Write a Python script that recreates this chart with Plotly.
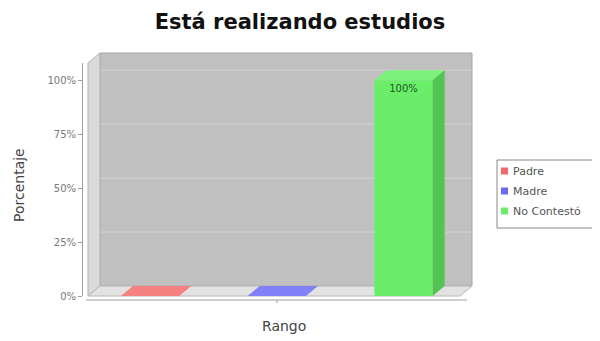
import plotly.graph_objects as go

# ---- data ----
series = ["Padre", "Madre", "No Contestó"]
values = [0, 0, 100]
colors_front = ["#f06a6a", "#6a6af5", "#6aee6a"]
colors_side = ["#c85050", "#5050c8", "#52c452"]
colors_top = ["#f58080", "#8080f8", "#7cf27c"]
ytick_vals = [0, 25, 50, 75, 100]
ytick_text = ["0%", "25%", "50%", "75%", "100%"]

# ---- geometry (pixels, in window coordinates) ----
OFF = 8                    # page body margin
W, H = 600, 341 - OFF
L, R_PX = 82, 460          # plot area (y axis at L, front face right edge at R_PX)
TOP, BOT = 63, 296
FRONT_LEFT = 88
DX, DY = 12, 10            # 3D depth in pixels
YMAX = 108
XR = [-0.49, 2.446]
BAR_W = 0.46

pw = R_PX - L
ph = BOT - TOP
def PX(px): return (px - L) / pw
def PY(py): return (BOT - py) / ph
ux = (R_PX - FRONT_LEFT) / (XR[1] - XR[0])   # px per x unit
uy = ph / YMAX                               # px per y unit
ddx = DX / ux
ddy = DY / uy

fig = go.Figure()
for s, v, c in zip(series, values, colors_front):
    fig.add_trace(go.Bar(
        x=[s], y=[v], name=s, width=BAR_W,
        marker=dict(color=c, line=dict(width=0)),
        text=[f"{v}%" if v > 0 else ""], textposition="inside",
        insidetextanchor="end", textangle=0,
        textfont=dict(family="DejaVu Sans", size=10, color="#1f5a1f"),
        cliponaxis=False, showlegend=False,
    ))

shapes = []
def poly(pts, fill, line="rgba(0,0,0,0)", lw=0, layer="below", ref="paper"):
    d = "M " + " L ".join(f"{x},{y}" for x, y in pts) + " Z"
    return dict(type="path", path=d, xref="paper" if ref == "paper" else "x",
                yref="paper" if ref == "paper" else "y",
                fillcolor=fill, line=dict(color=line, width=lw), layer=layer)

# back wall
shapes.append(poly([(PX(FRONT_LEFT + DX), PY(TOP - DY)), (PX(R_PX + DX), PY(TOP - DY)),
                    (PX(R_PX + DX), PY(BOT - DY)), (PX(FRONT_LEFT + DX), PY(BOT - DY))],
                   "#c0c0c0", "#a8a8a8", 1))
# left wall
shapes.append(poly([(PX(FRONT_LEFT), PY(BOT)), (PX(FRONT_LEFT), PY(TOP)),
                    (PX(FRONT_LEFT + DX), PY(TOP - DY)), (PX(FRONT_LEFT + DX), PY(BOT - DY))],
                   "#dadada", "#b0b0b0", 1))
# floor
shapes.append(poly([(PX(FRONT_LEFT), PY(BOT)), (PX(FRONT_LEFT + DX), PY(BOT - DY)),
                    (PX(R_PX + DX), PY(BOT - DY)), (PX(R_PX), PY(BOT))],
                   "#e2e2e2", "#b8b8b8", 1))
# gridlines on back wall
for v in ytick_vals[1:]:
    shapes.append(dict(type="line", xref="paper", yref="y",
                       x0=PX(FRONT_LEFT + DX), x1=PX(R_PX + DX), y0=v + ddy, y1=v + ddy,
                       line=dict(color="rgba(255,255,255,0.3)", width=1), layer="below"))
# 3D faces for bars
for i, (v, cs, ct) in enumerate(zip(values, colors_side, colors_top)):
    x0, x1 = i - BAR_W / 2, i + BAR_W / 2
    shapes.append(poly([(x0, v), (x1, v), (x1 + ddx, v + ddy), (x0 + ddx, v + ddy)],
                       ct, layer="above", ref="data"))
    if v > 0:
        shapes.append(poly([(x1, 0), (x1, v), (x1 + ddx, v + ddy), (x1 + ddx, ddy)],
                           cs, layer="above", ref="data"))
# category axis line
shapes.append(dict(type="line", xref="paper", yref="paper",
                   x0=PX(86), x1=PX(467), y0=PY(300), y1=PY(300),
                   line=dict(color="#a0a0a0", width=1)))
shapes.append(dict(type="line", xref="paper", yref="paper",
                   x0=PX(277), x1=PX(277), y0=PY(300), y1=PY(303),
                   line=dict(color="#a0a0a0", width=1)))

# legend (drawn manually to match the compact original; open on the right like the original)
LEG_X0, LEG_Y0, LEG_Y1 = 497, 160, 228
shapes.append(dict(type="path", xref="paper", yref="paper",
                   path=(f"M {PX(640)},{PY(LEG_Y0)} L {PX(LEG_X0)},{PY(LEG_Y0)} "
                         f"L {PX(LEG_X0)},{PY(LEG_Y1)} L {PX(640)},{PY(LEG_Y1)}"),
                   fillcolor="rgba(0,0,0,0)", line=dict(color="#888", width=1)))
annotations = []
for k, (s, c) in enumerate(zip(series, colors_front)):
    cy = 171 + 20 * k
    shapes.append(dict(type="rect", xref="paper", yref="paper",
                       x0=PX(501), x1=PX(508), y0=PY(cy - 3.5), y1=PY(cy + 3.5),
                       fillcolor=c, line=dict(width=0)))
    annotations.append(dict(text=s, xref="paper", yref="paper", x=PX(511), y=PY(cy),
                            xanchor="left", yanchor="middle", showarrow=False,
                            font=dict(family="DejaVu Sans", size=11, color="#555")))

# axis titles
annotations.append(dict(text="Porcentaje", xref="paper", yref="paper",
                        x=PX(19), y=PY(185), xanchor="center", yanchor="middle",
                        textangle=-90, showarrow=False,
                        font=dict(family="DejaVu Sans", size=14, color="#444")))
annotations.append(dict(text="Rango", xref="paper", yref="paper",
                        x=PX(284), y=PY(326), xanchor="center", yanchor="middle",
                        showarrow=False,
                        font=dict(family="DejaVu Sans", size=14, color="#444")))

fig.update_layout(
    width=W, height=H,
    margin=dict(l=L - OFF, r=W - (R_PX - OFF), t=TOP - OFF, b=H - (BOT - OFF),
                autoexpand=False),
    paper_bgcolor="white", plot_bgcolor="rgba(0,0,0,0)",
    barmode="overlay",
    showlegend=False,
    title=dict(text="<b>Está realizando estudios</b>", x=(300 - OFF) / W, xanchor="center",
               y=1 - (22 - OFF) / H, yanchor="middle",
               font=dict(family="DejaVu Sans", size=21, color="#111")),
    xaxis=dict(range=XR, domain=[PX(FRONT_LEFT), 1], showticklabels=False,
               showgrid=False, zeroline=False, showline=False, ticks="",
               automargin=False),
    yaxis=dict(range=[0, YMAX], anchor="free", position=0, automargin=False,
               tickvals=ytick_vals, ticktext=ytick_text,
               showgrid=False, zeroline=False,
               showline=True, linecolor="#a0a0a0", linewidth=1,
               ticks="outside", ticklen=4, tickcolor="#a0a0a0",
               tickfont=dict(family="DejaVu Sans", size=10, color="#777")),
    shapes=shapes,
    annotations=annotations,
)

fig.write_html("out.html")
